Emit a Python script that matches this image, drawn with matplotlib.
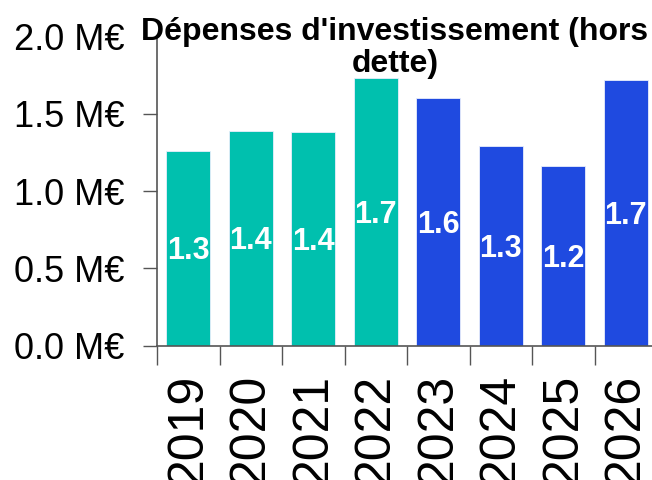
import matplotlib.pyplot as plt
import numpy as np

plt.rcParams['font.family'] = ['Liberation Sans', 'DejaVu Sans']

# Data
years = ['2019', '2020', '2021', '2022', '2023', '2024', '2025', '2026']
values = [1.26, 1.39, 1.38, 1.73, 1.60, 1.29, 1.16, 1.72]  # M€
colors = ['#00c0ae'] * 4 + ['#1f4ae0'] * 4
yticks = [0.0, 0.5, 1.0, 1.5, 2.0]
title = "Dépenses d'investissement (hors\ndette)"

fig = plt.figure(figsize=(6.52, 4.8), dpi=100)
ax = fig.add_axes([157 / 652, 1 - 345.7 / 480, 500 / 652, 309 / 480])

x = np.arange(len(years))
bars = ax.bar(x, values, width=0.7, color=colors, edgecolor='#e8eefc', linewidth=0.6)

for xi, v in zip(x, values):
    ax.text(xi, v / 2 - 0.02, f"{v:.1f}", ha='center', va='center', color='white',
            fontsize=22, fontweight='bold')

ax.set_xlim(-0.5, len(years) - 0.5)
ax.set_ylim(0, 2.0)

# y axis
ax.set_yticks(yticks)
ax.set_yticklabels([f"{t:.1f} M€" for t in yticks])
ax.tick_params(axis='y', length=10, width=1, color='#555555', pad=13.5, labelsize=26)

# x axis: ticks at category boundaries, labels at centres
ax.set_xticks(np.arange(len(years) + 1) - 0.5)
ax.set_xticklabels([])
ax.set_xticks(x, minor=True)
ax.set_xticklabels(years, minor=True, rotation=90)
ax.tick_params(axis='x', which='major', length=14, width=1, color='#555555')
ax.tick_params(axis='x', which='minor', length=0, pad=20, labelsize=36)

for s in ['top', 'right']:
    ax.spines[s].set_visible(False)
for s in ['left', 'bottom']:
    ax.spines[s].set_color('#555555')
    ax.spines[s].set_linewidth(1.2)

fig.text(395 / 652, 1 - 17 / 480, title, ha='center', va='top', fontsize=23,
         fontweight='bold', linespacing=1.1)

fig.savefig('out.png', dpi=100)
